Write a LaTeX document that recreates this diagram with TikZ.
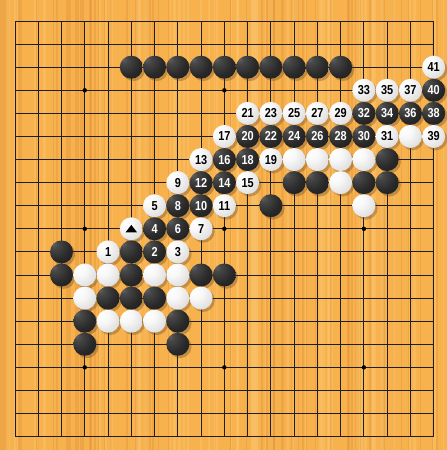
\documentclass[tikz,border=0pt]{standalone}
\usepackage{fontspec}
\setmainfont{Liberation Sans}
\usetikzlibrary{calc}
\definecolor{board}{RGB}{247,178,78}
\definecolor{graindark}{RGB}{224,146,56}
\definecolor{grainlight}{RGB}{252,196,110}
\newcommand\stonefont{\fontsize{13}{13}\selectfont\bfseries}
\pgfdeclareradialshading{blackstone}{\pgfpoint{-18bp}{18bp}}{color(0bp)=(black!62); color(8bp)=(black!72); color(28bp)=(black!84); color(50bp)=(black!90); color(75bp)=(black!96)}
\pgfdeclareradialshading{whitestone}{\pgfpoint{-16bp}{16bp}}{color(0bp)=(white); color(16bp)=(white!97!black); color(38bp)=(black!14); color(56bp)=(black!30); color(75bp)=(black!40)}
\def\blacklist{5/2/{},6/2/{},7/2/{},8/2/{},9/2/{},10/2/{},11/2/{},12/2/{},13/2/{},14/2/{},
18/3/40,15/4/32,16/4/34,17/4/36,18/4/38,
10/5/20,11/5/22,12/5/24,13/5/26,14/5/28,15/5/30,
9/6/16,10/6/18,16/6/{},
8/7/12,9/7/14,12/7/{},13/7/{},15/7/{},16/7/{},
7/8/8,8/8/10,11/8/{},
6/9/4,7/9/6,
2/10/{},5/10/{},6/10/2,
2/11/{},5/11/{},8/11/{},9/11/{},
4/12/{},5/12/{},6/12/{},
3/13/{},7/13/{},3/14/{},7/14/{}}
\def\whitelist{18/2/41,15/3/33,16/3/35,17/3/37,
10/4/21,11/4/23,12/4/25,13/4/27,14/4/29,
9/5/17,16/5/31,17/5/{},18/5/39,
8/6/13,11/6/19,12/6/{},13/6/{},14/6/{},15/6/{},
7/7/9,10/7/15,14/7/{},
6/8/5,9/8/11,15/8/{},
5/9/{},8/9/7,
4/10/1,7/10/3,
3/11/{},4/11/{},6/11/{},7/11/{},
3/12/{},7/12/{},8/12/{},
4/13/{},5/13/{},6/13/{}}
\begin{document}
\begin{tikzpicture}[
  gridline/.style={line width=0.85pt, draw=black!88, line cap=rect},
  stonebase/.style={circle, inner sep=0pt, minimum size=23pt},
  bstone/.style={stonebase, shading=blackstone, text=white, font=\stonefont},
  wstone/.style={stonebase, shading=whitestone, text=black, font=\stonefont},
  shadowfill/.style={fill=black!55!brown, opacity=0.32},
]
\useasboundingbox (0,0) rectangle (447pt,-450pt);
\fill[board] (0,0) rectangle (447pt,-450pt);
% wood grain
\pgfmathsetseed{11}
\foreach \k in {1,...,80}{
  \pgfmathsetmacro\xx{rnd*447}
  \pgfmathsetmacro\ww{0.5+rnd*2}
  \fill[graindark, opacity=0.4] (\xx pt,0) rectangle ++(\ww pt,-450pt);
}
\foreach \k in {1,...,50}{
  \pgfmathsetmacro\xx{rnd*447}
  \pgfmathsetmacro\ww{1+rnd*3}
  \fill[grainlight, opacity=0.45] (\xx pt,0) rectangle ++(\ww pt,-450pt);
}
\begin{scope}[shift={(15pt,-21pt)}, x=23.26pt, y=-23.09pt]
  \foreach \i in {0,...,18}{
    \draw[gridline] (\i,0) -- (\i,18);
    \draw[gridline] (0,\i) -- (18,\i);
  }
  \foreach \i in {3,9,15}{
    \foreach \j in {3,9,15}{
      \fill[black] (\i,\j) circle (2.2pt);
    }
  }
  % shadows
  \foreach \c/\r/\t in \blacklist{
    \fill[shadowfill] ([shift={(2.2pt,-2.4pt)}]\c,\r) circle (11.5pt);
  }
  \foreach \c/\r/\t in \whitelist{
    \fill[shadowfill] ([shift={(2.2pt,-2.4pt)}]\c,\r) circle (11.5pt);
  }
  % stones
  \foreach \c/\r/\t in \blacklist{
    \node[bstone] (b\c x\r) at (\c,\r) {\scalebox{0.84}[1]{\t}};
  }
  \foreach \c/\r/\t in \whitelist{
    \node[wstone] (w\c x\r) at (\c,\r) {\scalebox{0.84}[1]{\t}};
  }
  % triangle mark
  \fill[black] ([shift={(-5.8pt,-3.6pt)}]w5x9.center) -- ([shift={(5.8pt,-3.6pt)}]w5x9.center) -- ([shift={(0pt,3.9pt)}]w5x9.center) -- cycle;
\end{scope}
\end{tikzpicture}
\end{document}
